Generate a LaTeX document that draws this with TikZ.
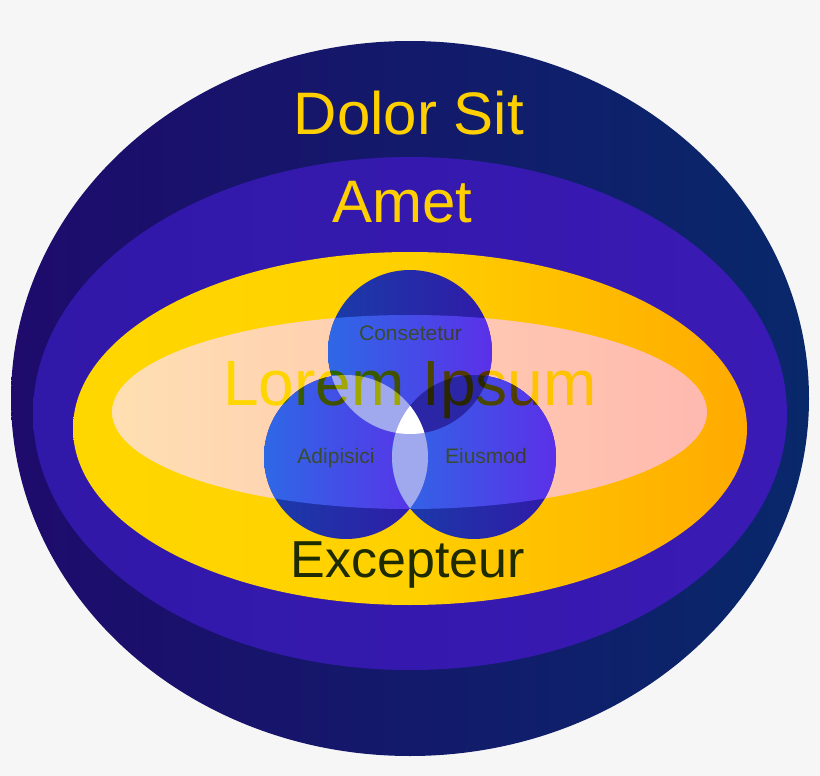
\documentclass[tikz,border=0pt]{standalone}
\usepackage{fontspec}
\setmainfont{Liberation Sans}
\definecolor{bg}{HTML}{F6F6F6}
\definecolor{outerL}{HTML}{1E0B6C}
\definecolor{outerR}{HTML}{08286A}
\definecolor{midL}{HTML}{3018A8}
\definecolor{midR}{HTML}{3A1AB4}
\definecolor{yelL}{HTML}{FFD700}
\definecolor{yelM}{HTML}{FFD000}
\definecolor{yelR}{HTML}{FFAA00}
\definecolor{liteL}{HTML}{FFDFB2}
\definecolor{liteR}{HTML}{FFB9B0}
\definecolor{cirL}{HTML}{2E68E6}
\definecolor{cirR}{HTML}{5B30E8}
\definecolor{dcirL}{HTML}{1A3CA8}
\definecolor{dcirR}{HTML}{301AA8}
\definecolor{lensLight}{HTML}{A0A8EE}
\definecolor{lensDark}{HTML}{2A26A6}
\definecolor{gold}{HTML}{FFCF00}
\definecolor{olive}{HTML}{1E2A00}
\definecolor{smalltxt}{HTML}{3A4C30}
\pgfdeclarehorizontalshading{yelshade}{100bp}{color(0bp)=(yelL); color(25bp)=(yelL); color(50bp)=(yelM); color(75bp)=(yelR); color(100bp)=(yelR)}
\begin{document}
\begin{tikzpicture}[x=1pt,y=-1pt,
  bigtxt/.style={anchor=base,inner sep=0pt,font=\fontsize{60}{72}\selectfont,text=gold},
  smalllabel/.style={anchor=base,inner sep=0pt,font=\fontsize{21}{25}\selectfont,text=smalltxt}]
\useasboundingbox (0,0) rectangle (820,776);
\fill[bg] (0,0) rectangle (820,776);
% ellipses
\path[left color=outerL,right color=outerR] (410,398.5) ellipse [x radius=399,y radius=357.5];
\path[left color=midL,right color=midR] (410,413.5) ellipse [x radius=377,y radius=256.5];
\path[shading=yelshade] (410,428.5) ellipse [x radius=337,y radius=176.5];
\path[left color=liteL,right color=liteR] (409.5,412) ellipse [x radius=297.5,y radius=97];
% circle centres
\coordinate (ct) at (410,352);
\coordinate (cl) at (346,457);
\coordinate (cr) at (474,457);
% dark circles
\foreach \c in {ct,cl,cr}
  \path[left color=dcirL,right color=dcirR] (\c) circle [radius=82];
% bright parts inside light ellipse
\begin{scope}
  \clip (409.5,412) ellipse [x radius=297.5,y radius=97];
  \foreach \c in {ct,cl,cr}
    \path[left color=cirL,right color=cirR] (\c) circle [radius=82];
  \begin{scope}
    \clip (ct) circle [radius=82];
    \fill[lensLight] (cl) circle [radius=82];
    \fill[lensDark] (cr) circle [radius=82];
  \end{scope}
  \begin{scope}
    \clip (cl) circle [radius=82];
    \fill[lensLight] (cr) circle [radius=82];
    \clip (ct) circle [radius=82];
    \fill[white] (cr) circle [radius=82];
  \end{scope}
\end{scope}
% texts
\node[bigtxt] (dolor) at (409,134) {Dolor Sit};
\node[bigtxt] (amet) at (402.5,222) {Amet};
\begin{scope}[blend mode=darken]
  \node[bigtxt,font=\fontsize{64}{76}\selectfont,text=yelL] (lorem) at (410,405) {Lorem Ipsum};
  \node[smalllabel] (cons) at (410.5,340) {Consetetur};
  \node[smalllabel] (adip) at (336,463) {Adipisici};
  \node[smalllabel] (eius) at (486,463) {Eiusmod};
\end{scope}
\node[bigtxt,font=\fontsize{52}{62}\selectfont,text=olive] (exc) at (408,577) {Excepteur};
\end{tikzpicture}
\end{document}
